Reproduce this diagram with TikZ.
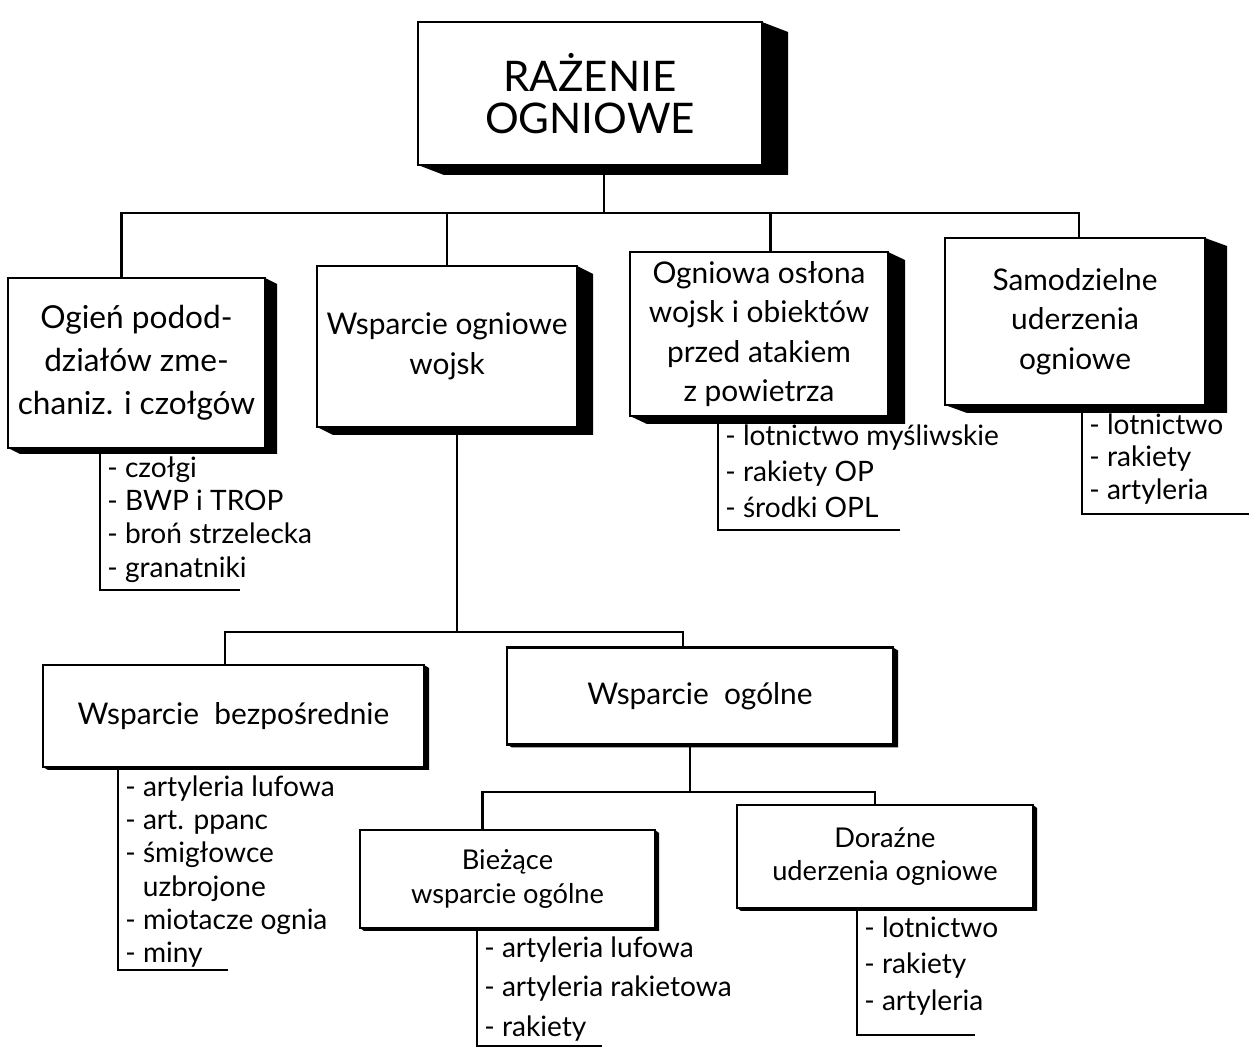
\documentclass[tikz,border=0pt]{standalone}
\usepackage{fontspec}
\setmainfont{Lato}
\tikzset{
  blok/.style={draw, line width=1.5pt, fill=white, inner sep=0pt, outer sep=0pt, align=center},
  tytul/.style={font=\fontsize{24}{24}\selectfont},
  duzy/.style={font=\fontsize{18}{24.5}\selectfont},
  sredni/.style={font=\fontsize{17}{22.5}\selectfont},
  maly/.style={font=\fontsize{15.5}{19}\selectfont},
  lista/.style={align=left, inner sep=0pt},
  polacz/.style={line width=1.2pt}
}
\newcommand{\blok}[9]{\node[blok,#2,minimum width=#5*0.02cm,minimum height=#6*0.02cm] (#1) at (#3,#4) {#9};
  \fill (#1.north east) -- ([shift={(#7,#8)}]#1.north east) -- ([shift={(#7,#8)}]#1.south east) -- ([shift={(#7,#8)}]#1.south west) -- (#1.south west) -- (#1.south east) -- cycle;}
\newcommand{\galaz}[3]{\draw[polacz] (#1) -- (#1 |- #3) -| (#2);}
\newcommand{\lista}[7]{\coordinate (#1) at (#3,#4); \coordinate (#1g) at (#2.south -| #1);
  \node[lista,font=\fontsize{16}{#6}\selectfont,anchor=north west] (#1t) at ([shift={(7,8)}]#1g) {#7};
  \draw[polacz] (#1g) -- (#1) -- ++(#5,0);}

\begin{document}
\begin{tikzpicture}[x=0.02cm,y=-0.02cm]
    \useasboundingbox (0,0) rectangle (1249,1053);
    \coordinate (p0) at (0,213); \coordinate (p1) at (0,632); \coordinate (p2) at (0,792);

    \blok{top}{tytul}{590}{93.5}{344}{143}{26}{10}{RAŻENIE\\OGNIOWE}
    \blok{b1}{duzy}{136.5}{363}{257}{170}{12}{6}{Ogień podod-\\działów zme-\\chaniz. i czołgów}
    \blok{b2}{sredni}{447}{346.5}{260}{161}{16}{8}{Wsparcie ogniowe\\wojsk}
    \blok{b3}{sredni}{759}{334}{258}{164}{17}{8}{Ogniowa osłona\\wojsk i obiektów\\przed atakiem\\z powietrza}
    \blok{b4}{sredni}{1075}{321.5}{260}{167}{22}{8}{Samodzielne\\uderzenia\\ogniowe}
    \galaz{top.-79}{b1.100}{p0} \galaz{top.-79}{b2.north}{p0}
    \galaz{top.-79}{b3.82}{p0} \galaz{top.-79}{b4.87}{p0}

    \lista{L1}{b1}{100}{590}{140}{19}{- czołgi\\- BWP i TROP\\- broń strzelecka\\- granatniki}
    \lista{L3}{b3}{718}{530}{182}{20.5}{- lotnictwo myśliwskie\\- rakiety OP\\- środki OPL}
    \lista{L4}{b4}{1082}{514}{167}{18.5}{- lotnictwo\\- rakiety\\- artyleria}

    \blok{b5}{sredni}{233.5}{716}{381}{102}{5}{3}{Wsparcie\ \ bezpośrednie}
    \blok{b6}{sredni}{700}{696}{386}{97}{5}{3}{Wsparcie\ \ ogólne}
    \galaz{b2.-83}{b5.99}{p1} \galaz{b2.-83}{b6.109}{p1}
    \lista{L5}{b5}{118}{970}{110}{19}{- artyleria lufowa\\- art. ppanc\\- śmigłowce\\\phantom{- }uzbrojone\\- miotacze ognia\\- miny}

    \blok{b7}{maly}{507.5}{879}{295}{98}{4}{3}{Bieżące\\wsparcie ogólne}
    \blok{b8}{maly}{885}{856.5}{296}{103}{4}{3}{Doraźne\\uderzenia ogniowe}
    \galaz{b6.-102}{b7.117}{p2} \galaz{b6.-102}{b8.101}{p2}
    \lista{L7}{b7}{477}{1046}{125}{22.5}{- artyleria lufowa\\- artyleria rakietowa\\- rakiety}
    \lista{L8}{b8}{857}{1035}{118}{21}{- lotnictwo\\- rakiety\\- artyleria}
\end{tikzpicture}
\end{document}
